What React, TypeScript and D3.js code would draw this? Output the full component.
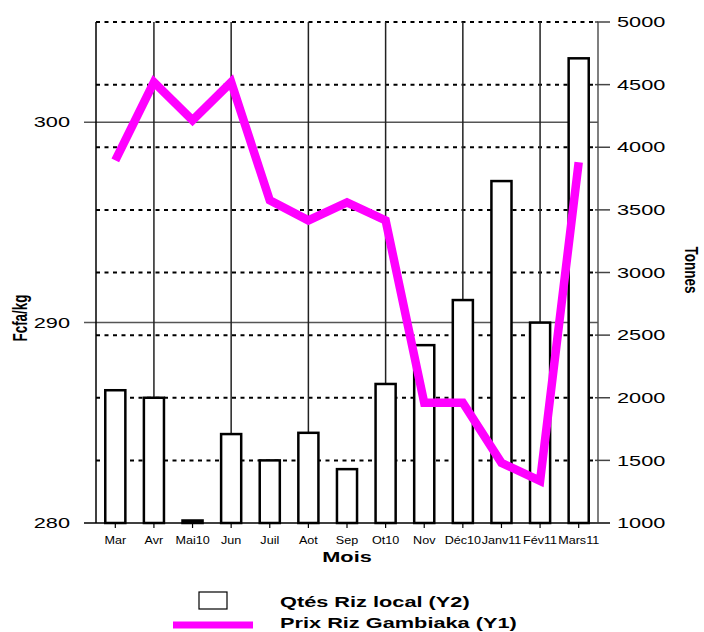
import React from 'react';
import * as d3 from 'd3';

// months on the x axis
const months = ['Mar', 'Avr', 'Mai10', 'Jun', 'Juil', 'Aot', 'Sep', 'Ot10', 'Nov', 'Déc10', 'Janv11', 'Fév11', 'Mars11'];
// Qtés Riz local (tonnes, right axis)
const qtyRizLocal = [2060, 2000, 1020, 1710, 1500, 1720, 1430, 2110, 2420, 2780, 3730, 2600, 4710];
// Prix Riz Gambiaka (Fcfa/kg, left axis)
const prixGambiaka = [298.1, 302.0, 300.1, 302.0, 296.1, 295.1, 296.0, 295.1, 286.0, 286.0, 283.0, 282.1, 298.0];
const leftTicks = [280, 290, 300];
const rightTicks = [1000, 1500, 2000, 2500, 3000, 3500, 4000, 4500, 5000];

const W = 704;
const H = 632;
const plot = { left: 96, right: 598, top: 22, bottom: 523 };
const FONT = '"Liberation Sans", Arial, sans-serif';
const STRETCH = 1.45; // the picture's text is stretched horizontally

type TxtProps = {
  x: number; y: number; text: string; size: number; bold?: boolean;
  anchor?: 'start' | 'middle' | 'end'; rotate?: number; sx?: number; fill?: string;
};

const Txt = ({ x, y, text, size, bold, anchor = 'start', rotate = 0, sx = STRETCH, fill = '#000' }: TxtProps) => (
  <g transform={`translate(${x},${y}) scale(${sx},1) rotate(${rotate})`}>
    <text
      textAnchor={anchor}
      dominantBaseline="central"
      fontFamily={FONT}
      fontSize={size}
      fontWeight={bold ? 'bold' : 'normal'}
      fill={fill}
    >
      {text}
    </text>
  </g>
);

const App = () => {
  const x = d3.scaleBand<string>()
    .domain(months)
    .range([plot.left, plot.right])
    .paddingInner(0.48)
    .paddingOuter(0.24);
  const cx = (m: string) => (x(m) as number) + x.bandwidth() / 2;

  const yL = d3.scaleLinear().domain([280, 305]).range([plot.bottom, plot.top]);
  const yR = d3.scaleLinear().domain([1000, 5000]).range([plot.bottom, plot.top]);

  const line = d3.line<number>()
    .x((_, i) => cx(months[i]))
    .y(d => yL(d));

  return (
    <div>
      <style>{'body{margin:0}'}</style>
      <svg width={W} height={H} style={{ display: 'block', background: '#fff' }}>
        {/* dotted grid from right axis */}
        {rightTicks.filter(t => t > 1000).map(t => (
          <line key={'dg' + t} x1={plot.left} x2={plot.right} y1={yR(t)} y2={yR(t)}
            stroke="#000" strokeWidth={2} strokeDasharray="4,4.5" />
        ))}
        {/* solid grid from left axis */}
        {leftTicks.filter(t => t > 280).map(t => (
          <line key={'sg' + t} x1={plot.left - 12} x2={plot.right} y1={yL(t)} y2={yL(t)}
            stroke="#555" strokeWidth={1.5} />
        ))}
        {/* vertical grid every other month */}
        {months.filter((_, i) => i % 2 === 1).map(m => (
          <line key={'vg' + m} x1={cx(m)} x2={cx(m)} y1={plot.top} y2={plot.bottom}
            stroke="#222" strokeWidth={1.5} />
        ))}

        {/* bars */}
        {months.map((m, i) => (
          <rect key={'b' + m} x={x(m)} y={yR(qtyRizLocal[i])} width={x.bandwidth()}
            height={yR(1000) - yR(qtyRizLocal[i])}
            fill="#fff" stroke="#000" strokeWidth={2.5} />
        ))}

        {/* axes */}
        <line x1={plot.left} x2={plot.left} y1={plot.top} y2={plot.bottom} stroke="#000" strokeWidth={1.5} />
        <line x1={plot.right} x2={plot.right} y1={plot.top} y2={plot.bottom} stroke="#555" strokeWidth={1.5} />
        <line x1={plot.left - 12} x2={plot.right + 12} y1={plot.bottom} y2={plot.bottom} stroke="#000" strokeWidth={1.5} />
        {months.map(m => (
          <line key={'xt' + m} x1={cx(m)} x2={cx(m)} y1={plot.bottom} y2={plot.bottom + 5} stroke="#000" strokeWidth={1.2} />
        ))}
        {rightTicks.map(t => (
          <line key={'rt' + t} x1={plot.right - 3} x2={plot.right + 12} y1={yR(t)} y2={yR(t)} stroke="#444" strokeWidth={1.5} />
        ))}

        {/* price line */}
        <path d={line(prixGambiaka) || ''} fill="none" stroke="#FF00FF" strokeWidth={8.5}
          strokeLinejoin="miter" strokeLinecap="butt" />

        {/* tick labels */}
        {leftTicks.map(t => (
          <Txt key={'lt' + t} x={70} y={yL(t)} text={String(t)} size={15} anchor="end" />
        ))}
        {rightTicks.map(t => (
          <Txt key={'rl' + t} x={617} y={yR(t)} text={String(t)} size={15} />
        ))}
        {months.map(m => (
          <Txt key={'xl' + m} x={cx(m)} y={540} text={m} size={10} anchor="middle" sx={1.26} />
        ))}

        {/* axis titles */}
        <Txt x={347} y={557} text="Mois" size={15} bold anchor="middle" />
        <Txt x={21} y={318} text="Fcfa/kg" size={13.5} bold anchor="middle" rotate={-90} sx={1.45} />
        <Txt x={692} y={270} text="Tonnes" size={13.5} bold anchor="middle" rotate={90} sx={1.4} />

        {/* legend */}
        <rect x={199} y={592} width={28} height={17} fill="#fff" stroke="#000" strokeWidth={1.2} />
        <Txt x={280} y={602} text="Qtés Riz local (Y2)" size={15} bold />
        <line x1={173} x2={253} y1={625} y2={625} stroke="#FF00FF" strokeWidth={7} />
        <Txt x={280} y={623} text="Prix Riz Gambiaka (Y1)" size={15} bold />
      </svg>
    </div>
  );
};

export default App;
